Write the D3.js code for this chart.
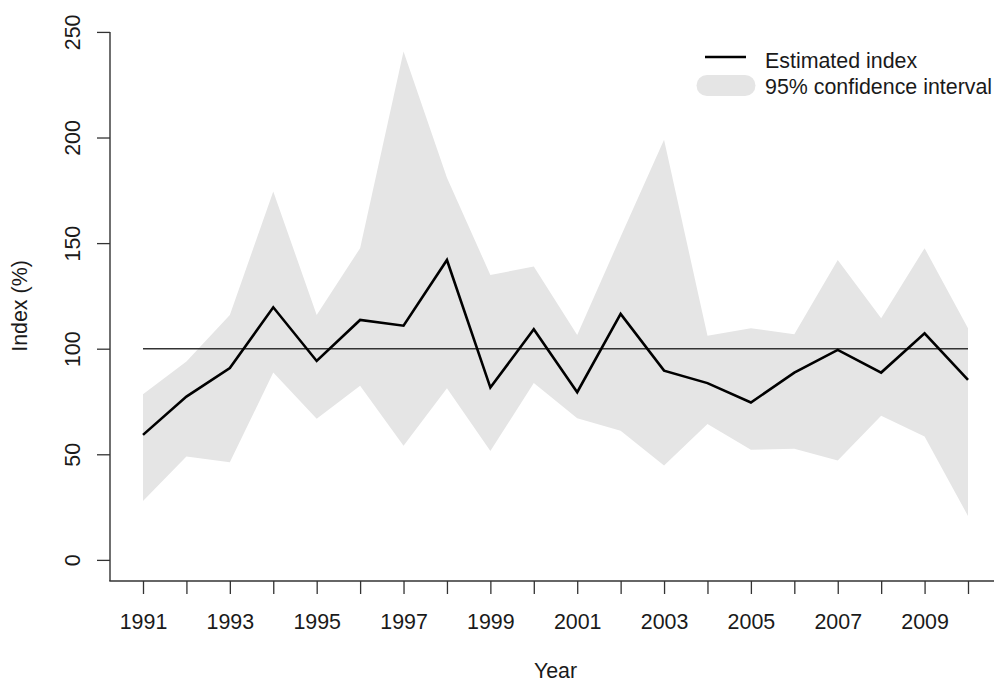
<!DOCTYPE html>
<html>
<head>
<meta charset="utf-8">
<script src="https://cdn.jsdelivr.net/npm/d3@7"></script>
<style>
  html, body { margin: 0; padding: 0; background: #fff; }
  svg { display: block; font-family: "Liberation Sans", Arial, sans-serif; }
</style>
</head>
<body>
<svg id="chart" width="994" height="683"></svg>
<script>
// Annual index with its 95% confidence band
const years = [1991,1992,1993,1994,1995,1996,1997,1998,1999,2000,
               2001,2002,2003,2004,2005,2006,2007,2008,2009,2010];
const indexValues = [59.2,77.3,90.8,119.6,94.2,113.6,110.9,142.0,81.6,109.2,
                     79.4,116.5,89.6,83.7,74.5,88.7,99.4,88.7,107.3,85.2];
const upperCI = [78.4,93.9,116.0,174.4,116.0,147.6,240.7,181.0,134.9,138.9,
                 106.5,153.0,198.9,106.1,109.7,106.8,142.0,114.4,147.6,109.7];
const lowerCI = [27.9,48.9,46.2,88.7,66.8,82.4,54.1,81.3,51.6,83.7,
                 67.1,61.1,44.7,64.3,52.1,52.6,47.0,68.2,58.4,20.8];
const yTicks = [0, 50, 100, 150, 200, 250];
const xLabelYears = [1991,1993,1995,1997,1999,2001,2003,2005,2007,2009];
const baseline = 100;
const legendLabels = ["Estimated index", "95% confidence interval"];

const svg = d3.select("#chart");
const axisColor = "#333";
const bandColor = "#e5e5e5";
const fontSize = 21.4;

// Plot region (axis ranges padded by 4% on each side)
const x = d3.scaleLinear().domain([1990.24, 2010.76]).range([110, 1001]);
const y = d3.scaleLinear().domain([-10, 260]).range([581, 10.8]);

const rows = years.map((yr, i) => ({ yr, v: indexValues[i], lo: lowerCI[i], hi: upperCI[i] }));

// Confidence band
svg.append("path")
  .datum(rows)
  .attr("fill", bandColor)
  .attr("d", d3.area().x(d => x(d.yr)).y0(d => y(d.lo)).y1(d => y(d.hi)));

// Reference line at 100
svg.append("line")
  .attr("x1", x(years[0])).attr("x2", x(years[years.length - 1]))
  .attr("y1", y(baseline)).attr("y2", y(baseline))
  .attr("stroke", axisColor).attr("stroke-width", 1.4);

// Estimated index
svg.append("path")
  .datum(rows)
  .attr("fill", "none")
  .attr("stroke", "#000")
  .attr("stroke-width", 2.6)
  .attr("stroke-linejoin", "miter")
  .attr("d", d3.line().x(d => x(d.yr)).y(d => y(d.v)));

// L-shaped frame
svg.append("line")
  .attr("x1", 110).attr("x2", 110).attr("y1", y(250)).attr("y2", 581)
  .attr("stroke", axisColor).attr("stroke-width", 1.4);
svg.append("line")
  .attr("x1", 109.3).attr("x2", 1001).attr("y1", 581).attr("y2", 581)
  .attr("stroke", axisColor).attr("stroke-width", 1.4);

// Y axis
const yAxis = svg.append("g")
  .attr("transform", "translate(110,0)")
  .call(d3.axisLeft(y).tickValues(yTicks).tickSize(13).tickFormat(d3.format("d")));
yAxis.select(".domain").remove();
yAxis.selectAll(".tick line").attr("stroke", axisColor).attr("stroke-width", 1.3);
yAxis.selectAll(".tick text")
  .attr("transform", "rotate(-90)")
  .attr("x", 0).attr("y", -30).attr("dy", 0)
  .attr("text-anchor", "middle")
  .attr("fill", "#1a1a1a")
  .style("font-size", fontSize + "px")
  .style("font-family", "'Liberation Sans', Arial, sans-serif");

// X axis
const xAxis = svg.append("g")
  .attr("transform", "translate(0,581)")
  .call(d3.axisBottom(x).tickValues(years).tickSize(13)
    .tickFormat(d => xLabelYears.includes(d) ? String(d) : ""));
xAxis.select(".domain").remove();
xAxis.selectAll(".tick line").attr("stroke", axisColor).attr("stroke-width", 1.3);
xAxis.selectAll(".tick text")
  .attr("y", 48).attr("dy", 0)
  .attr("fill", "#1a1a1a")
  .style("font-size", fontSize + "px")
  .style("font-family", "'Liberation Sans', Arial, sans-serif");

// Axis titles
svg.append("text")
  .attr("x", (110 + 1001) / 2).attr("y", 678)
  .attr("text-anchor", "middle")
  .attr("fill", "#1a1a1a")
  .style("font-size", fontSize + "px")
  .text("Year");
svg.append("text")
  .attr("transform", "translate(27,306) rotate(-90)")
  .attr("text-anchor", "middle")
  .attr("fill", "#1a1a1a")
  .style("font-size", fontSize + "px")
  .text("Index (%)");

// Legend
const legend = svg.append("g");
legend.append("line")
  .attr("x1", 705).attr("x2", 746).attr("y1", 57).attr("y2", 57)
  .attr("stroke", "#000").attr("stroke-width", 2.6);
legend.append("line")
  .attr("x1", 707).attr("x2", 745).attr("y1", 85.5).attr("y2", 85.5)
  .attr("stroke", bandColor).attr("stroke-width", 21).attr("stroke-linecap", "round");
legend.selectAll("text.lab")
  .data(legendLabels)
  .join("text")
  .attr("class", "lab")
  .attr("x", 765)
  .attr("y", (d, i) => i === 0 ? 68 : 94)
  .attr("fill", "#1a1a1a")
  .style("font-size", fontSize + "px")
  .text(d => d);
</script>
</body>
</html>
